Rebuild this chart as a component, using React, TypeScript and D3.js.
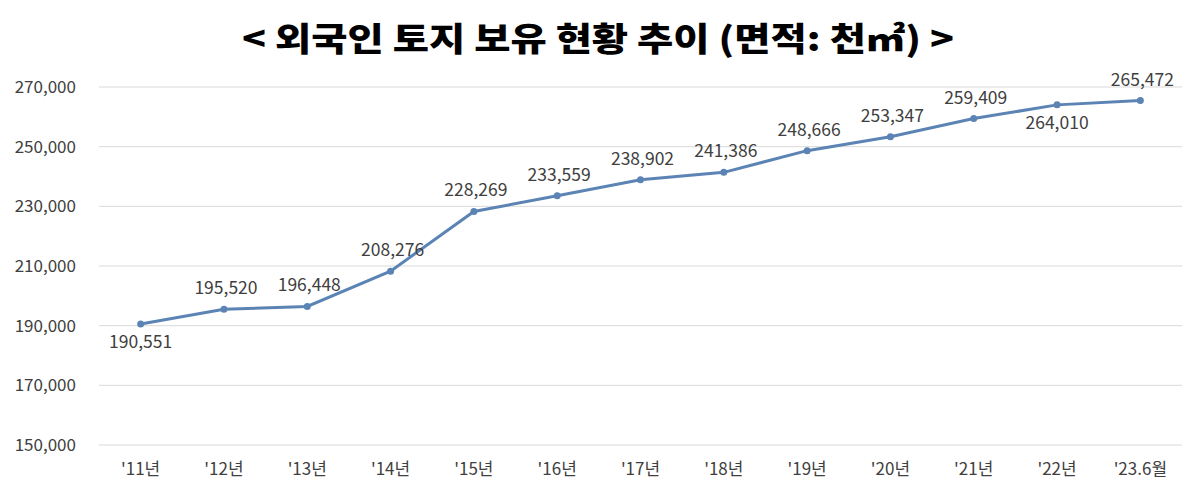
import React from "react";
import * as d3 from "d3";

const categories = ["'11년", "'12년", "'13년", "'14년", "'15년", "'16년", "'17년", "'18년", "'19년", "'20년", "'21년", "'22년", "'23.6월"];
const values = [190551, 195520, 196448, 208276, 228269, 233559, 238902, 241386, 248666, 253347, 259409, 264010, 265472];
const labelBelow = [true, false, false, false, false, false, false, false, false, false, false, true, false];
const yTicks = [150000, 170000, 190000, 210000, 230000, 250000, 270000];
const title = "< 외국인 토지 보유 현황 추이 (면적: 천㎡) >";

export default function App() {
  const W = 1196, H = 502;
  const left = 99, right = 1182, top = 87, bottom = 445;
  const x = d3.scaleBand<string>().domain(categories).range([left, right]);
  const y = d3.scaleLinear().domain([150000, 270000]).range([bottom, top]);
  const fmt = d3.format(",");
  const line = d3.line<number>()
    .x((_, i) => (x(categories[i]) as number) + x.bandwidth() / 2)
    .y((d) => y(d));
  const font = "'Noto Sans CJK KR', 'Noto Sans', sans-serif";
  return (
    <svg width={W} height={H} style={{ position: "absolute", left: 0, top: 0, background: "#fff" }}>
      <text x={598} y={51} textAnchor="middle" fontFamily="'Noto Sans CJK KR', sans-serif" fontWeight={900} fontSize={33} fill="#000" textLength={712} lengthAdjust="spacingAndGlyphs">{title}</text>
      {yTicks.map((t) => (
        <g key={t}>
          <line x1={left} x2={right} y1={y(t)} y2={y(t)} stroke="#d9d9d9" strokeWidth={1} />
          <text x={76} y={y(t)} dy="0.35em" textAnchor="end" fontFamily={font} fontSize={17} fill="#404040">{fmt(t)}</text>
        </g>
      ))}
      {categories.map((c) => (
        <text key={c} x={(x(c) as number) + x.bandwidth() / 2} y={475} textAnchor="middle" fontFamily={font} fontSize={17} fill="#404040">{c}</text>
      ))}
      <path d={line(values) || ""} fill="none" stroke="#5B84B5" strokeWidth={3} />
      {values.map((v, i) => {
        const cx = (x(categories[i]) as number) + x.bandwidth() / 2;
        const cy = y(v);
        return (
          <g key={i}>
            <circle cx={cx} cy={cy} r={3.5} fill="#5B84B5" />
            <text x={labelBelow[i] ? cx : cx + 2} y={labelBelow[i] ? cy + 24 : cy - 15} textAnchor="middle" fontFamily={font} fontSize={17.5} fill="#404040">{fmt(v)}</text>
          </g>
        );
      })}
    </svg>
  );
}
